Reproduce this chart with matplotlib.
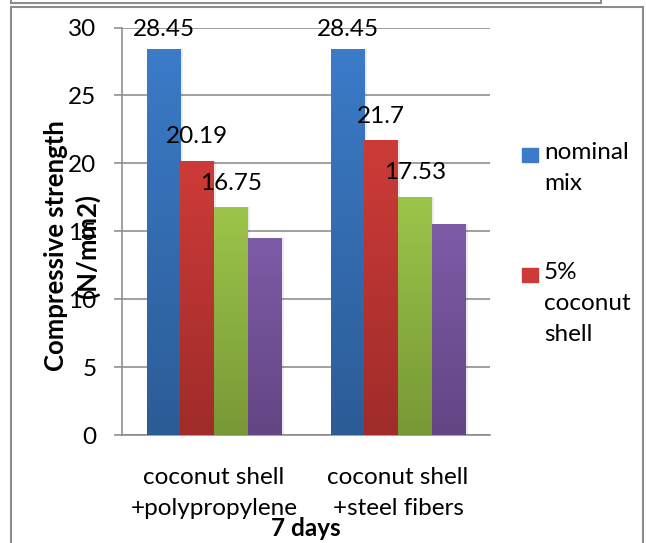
import numpy as np
import matplotlib
matplotlib.use('Agg')
import matplotlib.pyplot as plt
from matplotlib.colors import LinearSegmentedColormap
from matplotlib.patches import Rectangle

plt.rcParams['font.family'] = ['Lato', 'DejaVu Sans']

categories = ['coconut shell\n+polypropylene', 'coconut shell\n+steel fibers']
series_names = ['nominal mix', '5% coconut shell', '10% coconut shell', '15% coconut shell']
nominal_mix = [28.45, 28.45]
coconut_5 = [20.19, 21.7]
coconut_10 = [16.75, 17.53]
coconut_15 = [14.5, 15.55]
series_values = [nominal_mix, coconut_5, coconut_10, coconut_15]
labelled = [True, True, True, False]

# (top colour, bottom colour) for the Excel-style gradient
colors = [('#3b7bc8', '#2c5c96'),
          ('#cd3b38', '#9f2c2a'),
          ('#9cc44a', '#789836'),
          ('#7e5ba7', '#634684')]

FS = 17.5
W, H = 646, 543
fig = plt.figure(figsize=(W / 100, H / 100), dpi=100)
ax = fig.add_axes([122 / W, 1 - 435 / H, (490 - 122) / W, (435 - 27.5) / H])

x = np.arange(len(categories))
bw = 0.183
grad = np.linspace(0, 1, 100).reshape(-1, 1)

for i, (vals, (ctop, cbot)) in enumerate(zip(series_values, colors)):
    offs = (i - 1.5) * bw
    cmap = LinearSegmentedColormap.from_list('g%d' % i, [cbot, ctop])
    # soft shadow
    ax.bar(x + offs + 0.012, vals, bw, color='#000000', alpha=0.08, zorder=2, linewidth=0)
    bars = ax.bar(x + offs, vals, bw, color=ctop, zorder=3, linewidth=0, label=series_names[i])
    for b in bars:
        x0, w, h = b.get_x(), b.get_width(), b.get_height()
        im = ax.imshow(grad, extent=[x0, x0 + w, 0, h], origin='lower', cmap=cmap,
                       aspect='auto', zorder=4)
        im.set_clip_path(b)
        if labelled[i]:
            ax.text(x0 + w / 2, min(h + 1.3, 29.4), f'{h:g}', ha='center', va='baseline',
                    fontsize=FS, zorder=6, clip_on=False)

ax.set_xlim(-0.5, 1.5)
ax.set_ylim(0, 30)
ax.set_yticks(range(0, 31, 5))
ax.set_xticks(x)
ax.set_xticklabels(categories, fontsize=FS, linespacing=1.6)
ax.tick_params(axis='x', length=0, pad=23)
ax.tick_params(axis='y', length=5.5, width=1.1, color='#868686', labelsize=FS, pad=13)
ax.grid(axis='y', color='#868686', linewidth=1.1, zorder=0)
ax.set_axisbelow(True)
for s in ['top', 'right']:
    ax.spines[s].set_visible(False)
for s in ['left', 'bottom']:
    ax.spines[s].set_color('#868686')
    ax.spines[s].set_linewidth(1.1)

fig.text(72 / W, 1 - 246 / H, 'Compressive strength\n(N/mm2)', rotation=90, ha='center',
         va='center', fontsize=18.5, fontweight='bold', linespacing=1.3)
fig.text(306 / W, 1 - 528 / H, '7 days', ha='center', va='center', fontsize=FS,
         fontweight='bold')

# legend (only first two entries visible in the original)
leg_items = [('nominal\nmix', colors[0], 155), ('5%\ncoconut\nshell', colors[1], 275)]
for text, (ctop, cbot), yc in leg_items:
    fig.patches.append(Rectangle((522 / W, 1 - (yc + 7) / H), 16 / W, 14 / H,
                                 transform=fig.transFigure, color=ctop, figure=fig))
    fig.text(544 / W, 1 - (yc - 13) / H, text, ha='left', va='top', fontsize=FS,
             linespacing=1.6)

# chart border and the edge of the box above
fig.patches.append(Rectangle((11 / W, -0.01), (643 - 11) / W, 1.01 - 7 / H, fill=False,
                             edgecolor='#8c8c8c', linewidth=1.5, transform=fig.transFigure,
                             figure=fig))
fig.lines.append(plt.Line2D([11 / W, 601 / W], [1 - 3 / H, 1 - 3 / H], color='#8c8c8c',
                            linewidth=1.5, transform=fig.transFigure, figure=fig))
fig.lines.append(plt.Line2D([601 / W, 601 / W], [1 - 3 / H, 1.0], color='#8c8c8c',
                            linewidth=1.5, transform=fig.transFigure, figure=fig))
fig.lines.append(plt.Line2D([11 / W, 11 / W], [1 - 3 / H, 1.0], color='#8c8c8c',
                            linewidth=1.5, transform=fig.transFigure, figure=fig))

fig.savefig('out.png', dpi=100)
